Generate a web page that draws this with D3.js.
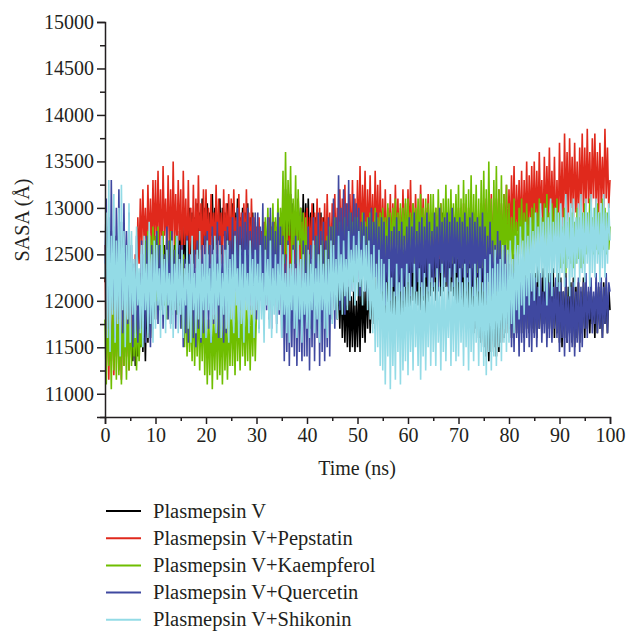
<!DOCTYPE html>
<html>
<head>
<meta charset="utf-8">
<script src="https://cdn.jsdelivr.net/npm/d3@7"></script>
<style>
  html, body { margin: 0; padding: 0; background: #ffffff; }
  svg { display: block; }
  text { font-family: "Liberation Serif", "Times New Roman", serif; fill: #231f20; }
</style>
</head>
<body>
<svg id="chart" width="626" height="631"></svg>
<script>
// SASA trajectories, one frame every 0.25 ns from 0 to 100 ns
const timeStep = 0.25;

const seriesNames = [
  "Plasmepsin V",
  "Plasmepsin V+Pepstatin",
  "Plasmepsin V+Kaempferol",
  "Plasmepsin V+Quercetin",
  "Plasmepsin V+Shikonin"
];
const seriesColors = ["#000000", "#e0291c", "#6fbe00", "#3f48a0", "#93dbe6"];

const sasaApo = [
  12200, 12800, 12100, 12700, 12300, 12750, 12000, 12600, 12150, 12700, 12250, 12800, 12100, 12650, 12200, 12750, 12050, 12600, 11900, 12500,
  11600, 12200, 11350, 12000, 11300, 11900, 11400, 12100, 11500, 12300, 11450, 12000, 11350, 12150, 11550, 12250, 11600, 12300, 11700, 12400,
  11800, 12600, 11900, 12650, 11950, 12500, 11850, 12600, 12000, 12700, 11900, 12550, 12000, 12650, 11850, 12600, 12000, 12700, 12100, 12750,
  12300, 12900, 12200, 12950, 12400, 12850, 12300, 13000, 12500, 12950, 12400, 12900, 12500, 13050, 12450, 12950, 12550, 13100, 12600, 13000,
  12600, 13050, 12500, 12950, 12700, 13150, 12550, 13000, 12600, 12900, 12650, 13100, 12500, 13000, 12700, 12950, 12550, 13050, 12600, 12900,
  12500, 13050, 12400, 12950, 12600, 13100, 12450, 12900, 12550, 13000, 12500, 12950, 12400, 13050, 12550, 12900, 12450, 12950, 12400, 12850,
  12100, 12800, 11950, 12700, 12200, 12750, 12000, 12650, 12300, 12800, 12150, 12700, 12050, 12750, 12250, 12650, 12100, 12800, 12300, 12850,
  12400, 13100, 12300, 13200, 12500, 12950, 12350, 13150, 12450, 13050, 12400, 12950, 12350, 13100, 12500, 13000, 12400, 13150, 12450, 13050,
  12500, 13100, 12400, 12950, 12600, 13050, 12450, 12900, 12300, 12850, 12400, 12950, 12350, 12900, 12250, 12800, 12200, 12750, 12150, 12700,
  12100, 12600, 11900, 12400, 11800, 12300, 11700, 12250, 11600, 12200, 11550, 12100, 11500, 12150, 11450, 12050, 11500, 12100, 11450, 12000,
  11500, 12200, 11450, 12300, 11600, 12100, 11550, 12250, 11700, 12300, 11650, 12200, 11750, 12350, 11700, 12250, 11800, 12400, 11750, 12300,
  11750, 12500, 11800, 12600, 11700, 12450, 11850, 12550, 11750, 12500, 11800, 12450, 11850, 12600, 11750, 12500, 11800, 12550, 11900, 12600,
  11900, 12650, 11800, 12700, 12000, 12600, 11850, 12550, 11950, 12700, 11900, 12650, 12000, 12600, 11850, 12700, 11950, 12650, 12050, 12750,
  12100, 12850, 12000, 12900, 12200, 12750, 12050, 12950, 12100, 12800, 12150, 12900, 12000, 12850, 12100, 12800, 12050, 12750, 11950, 12700,
  11800, 12600, 11750, 12700, 11900, 12500, 11700, 12650, 11800, 12550, 11750, 12600, 11650, 12500, 11700, 12550, 11600, 12450, 11550, 12400,
  11500, 12300, 11400, 12200, 11350, 12100, 11450, 12250, 11500, 12300, 11400, 12200, 11450, 12250, 11550, 12300, 11600, 12350, 11650, 12400,
  11700, 12400, 11600, 12500, 11750, 12350, 11650, 12450, 11700, 12300, 11650, 12400, 11600, 12350, 11700, 12450, 11650, 12300, 11700, 12400,
  11650, 12300, 11600, 12400, 11700, 12250, 11650, 12350, 11750, 12200, 11600, 12300, 11700, 12250, 11650, 12350, 11600, 12200, 11650, 12300,
  11550, 12250, 11500, 12100, 11600, 12300, 11550, 12150, 11650, 12200, 11550, 12250, 11500, 12150, 11600, 12200, 11550, 12100, 11650, 12250,
  11600, 12200, 11700, 12100, 11650, 12150, 11750, 12050, 11600, 12200, 11650, 12150, 11700, 12100, 11600, 12200, 11750, 12100, 11650, 12150,
  11900
];

const sasaPepstatin = [
  12600, 11300, 12100, 11150, 11900, 11350, 12000, 11200, 11800, 11400, 12050, 11250, 11850, 11150, 11950, 11300, 12000, 11400, 11850, 11250,
  11900, 11600, 12300, 11700, 12500, 11900, 12900, 12400, 13100, 12500, 13200, 12600, 13000, 12450, 13250, 12550, 13100, 12500, 13300, 12600,
  13300, 12500, 13400, 12600, 13200, 12400, 13450, 12700, 13100, 12500, 13350, 12550, 13200, 12450, 13500, 12600, 13150, 12500, 13300, 12650,
  13200, 12300, 13400, 12600, 13100, 12400, 13300, 12500, 13000, 12400, 13250, 12350, 13100, 12500, 13350, 12450, 13050, 12400, 13200, 12500,
  13200, 12500, 13000, 12400, 13150, 12600, 12950, 12450, 13250, 12500, 13100, 12550, 12950, 12400, 13200, 12500, 13050, 12600, 13150, 12450,
  13100, 12450, 13200, 12600, 12900, 12400, 13150, 12550, 12950, 12500, 13050, 12450, 13200, 12550, 12950, 12400, 13100, 12500, 12900, 12450,
  12800, 12200, 12900, 12100, 12750, 12300, 12850, 12150, 12700, 12250, 12900, 12200, 12800, 12100, 12850, 12300, 12750, 12200, 12900, 12150,
  12850, 12200, 12750, 12100, 12900, 12300, 12800, 12150, 12950, 12250, 12850, 12200, 12900, 12300, 12750, 12150, 12850, 12250, 12950, 12300,
  13000, 12300, 12900, 12450, 13050, 12350, 12950, 12500, 13100, 12400, 13000, 12350, 12900, 12450, 13050, 12400, 13150, 12500, 12950, 12400,
  13050, 12450, 13150, 12500, 13000, 12400, 13200, 12550, 13100, 12500, 13250, 12450, 13050, 12550, 13150, 12500, 13300, 12550, 13100, 12500,
  13300, 12600, 13450, 12550, 13250, 12700, 13400, 12500, 13200, 12650, 13350, 12600, 13150, 12550, 13400, 12650, 13250, 12600, 13300, 12550,
  13100, 12550, 13200, 12500, 13000, 12600, 13150, 12500, 13050, 12550, 13250, 12600, 13100, 12500, 13000, 12550, 13200, 12600, 13050, 12500,
  13200, 12600, 13300, 12550, 13050, 12650, 13150, 12600, 12950, 12550, 13250, 12600, 13100, 12550, 13000, 12650, 13150, 12600, 12950, 12550,
  12950, 12500, 13000, 12550, 12900, 12450, 13050, 12500, 12900, 12550, 13000, 12500, 12950, 12450, 13050, 12550, 12900, 12500, 13000, 12450,
  13000, 12500, 12900, 12550, 13050, 12450, 12950, 12600, 13000, 12500, 13100, 12550, 12950, 12500, 13000, 12450, 12900, 12550, 13050, 12500,
  13050, 12550, 13100, 12500, 12950, 12600, 13150, 12550, 13000, 12600, 13100, 12550, 13200, 12600, 13050, 12500, 13150, 12650, 13250, 12600,
  13200, 12650, 13350, 12700, 13450, 12600, 13250, 12750, 13300, 12700, 13400, 12650, 13300, 12750, 13500, 12700, 13350, 12800, 13450, 12750,
  13500, 12800, 13400, 12750, 13600, 12900, 13300, 12700, 13550, 12800, 13450, 12850, 13650, 12750, 13400, 12800, 13550, 12650, 13300, 12700,
  13700, 12900, 13500, 12750, 13800, 12950, 13600, 12850, 13750, 13000, 13550, 12900, 13700, 12950, 13500, 12850, 13650, 13000, 13800, 12950,
  13650, 12950, 13850, 13050, 13600, 12900, 13750, 13100, 13800, 13000, 13600, 12950, 13700, 13050, 13550, 13000, 13850, 13100, 13650, 13000,
  13300
];

const sasaKaempferol = [
  11800, 11100, 12000, 11300, 11900, 11050, 12100, 11250, 11950, 11150, 12050, 11200, 11850, 11100, 12000, 11300, 11900, 11150, 12050, 11250,
  11850, 11300, 11900, 11400, 11800, 11250, 11950, 11350, 11700, 11500, 12200, 11900, 12650, 12300, 12750, 12400, 12700, 12250, 12800, 12350,
  12700, 12000, 12800, 11900, 12600, 12100, 12750, 11950, 12500, 11800, 12650, 12000, 12750, 11900, 12550, 12050, 12700, 11850, 12500, 11950,
  12400, 11700, 12500, 11500, 12200, 11400, 12000, 11450, 11900, 11350, 12100, 11300, 11950, 11400, 12050, 11250, 11900, 11350, 12000, 11200,
  11950, 11100, 11800, 11200, 12000, 11050, 11850, 11250, 11900, 11150, 12000, 11200, 11850, 11100, 11950, 11250, 11800, 11150, 11900, 11300,
  12000, 11300, 11900, 11200, 12100, 11350, 11950, 11250, 12050, 11400, 11900, 11300, 12000, 11350, 12100, 11250, 11950, 11400, 12050, 11350,
  11900, 12300, 12000, 12500, 12200, 12700, 12300, 12900, 12400, 13000, 12350, 12850, 12400, 13050, 12300, 12900, 12450, 13100, 12400, 13000,
  12600, 13400, 12400, 13600, 12500, 13300, 12700, 13450, 12350, 13100, 12550, 13350, 12400, 13200, 12600, 13000, 12350, 12950, 12300, 12900,
  12300, 11800, 12500, 11700, 12400, 11900, 12600, 11850, 12700, 12100, 12500, 11800, 12650, 12000, 12550, 11900, 12700, 12100, 12800, 12200,
  12800, 12150, 12900, 12100, 12700, 12250, 12850, 12200, 12750, 12300, 12900, 12200, 12800, 12250, 12950, 12300, 12850, 12200, 12900, 12300,
  12900, 12350, 12800, 12300, 12950, 12400, 12850, 12350, 12900, 12400, 12950, 12300, 12850, 12400, 13000, 12350, 12900, 12400, 12950, 12450,
  13000, 12450, 12900, 12400, 13050, 12500, 12950, 12450, 13000, 12500, 13100, 12450, 12950, 12500, 13050, 12400, 13000, 12500, 13100, 12450,
  13100, 12450, 12950, 12500, 13050, 12400, 13000, 12550, 13100, 12450, 13150, 12500, 13000, 12450, 13100, 12550, 13050, 12400, 13150, 12500,
  13150, 12500, 13000, 12450, 13200, 12550, 13050, 12400, 13100, 12500, 13250, 12450, 13100, 12550, 13200, 12400, 13050, 12500, 13150, 12450,
  13250, 12400, 13100, 12350, 13300, 12450, 13150, 12300, 13200, 12400, 13350, 12350, 13150, 12450, 13250, 12300, 13100, 12400, 13300, 12350,
  13400, 12300, 13200, 12250, 13500, 12400, 13100, 12200, 13300, 12350, 13450, 12250, 13200, 12300, 13350, 12200, 13150, 12350, 13250, 12300,
  13050, 12400, 12900, 12300, 13100, 12450, 12850, 12350, 13000, 12500, 13100, 12400, 12950, 12350, 13050, 12450, 12900, 12400, 13000, 12500,
  13050, 12550, 12950, 12500, 13100, 12600, 12900, 12550, 13050, 12500, 13150, 12550, 12950, 12600, 13050, 12500, 13000, 12550, 13100, 12500,
  12950, 12350, 12800, 12400, 13000, 12300, 12850, 12450, 12900, 12400, 12950, 12350, 12850, 12400, 13000, 12450, 12900, 12350, 12950, 12400,
  13050, 12500, 12950, 12550, 13100, 12600, 12900, 12500, 13000, 12550, 13050, 12500, 12950, 12600, 13100, 12550, 13000, 12500, 12950, 12550,
  12800
];

const sasaQuercetin = [
  12400, 13100, 11700, 12900, 11650, 13300, 11900, 12800, 11600, 13000, 11800, 13200, 11700, 12850, 11650, 13050, 11900, 12750, 11750, 12950,
  11800, 12600, 11500, 12400, 11650, 12700, 11550, 12300, 11700, 12650, 11600, 12500, 11550, 12700, 11650, 12400, 11500, 12600, 11700, 12550,
  12100, 12750, 11750, 12600, 11900, 12700, 11700, 12500, 12000, 12800, 11800, 12650, 11750, 12750, 11900, 12550, 11700, 12700, 11850, 12600,
  11700, 12600, 11500, 12450, 11650, 12700, 11550, 12500, 11800, 12600, 11600, 12550, 11500, 12650, 11700, 12450, 11550, 12600, 11650, 12700,
  11600, 12750, 11700, 12600, 11550, 12800, 11750, 12650, 11650, 12850, 11600, 12700, 11700, 12600, 11550, 12750, 11650, 12800, 11700, 12650,
  12000, 12900, 11800, 12750, 12100, 13000, 11750, 12800, 11900, 12950, 11850, 12850, 12000, 13000, 11750, 12750, 11900, 12900, 11800, 12950,
  11800, 12950, 11700, 12800, 12000, 13050, 11750, 12700, 11900, 12900, 11800, 13000, 11700, 12850, 11950, 12750, 11750, 12950, 11850, 12800,
  11600, 12700, 11350, 12500, 11450, 12650, 11300, 12400, 11500, 12600, 11400, 12700, 11300, 12550, 11450, 12450, 11350, 12650, 11400, 12600,
  11400, 12800, 11250, 12600, 11500, 12900, 11350, 12700, 11600, 12950, 11300, 12750, 11450, 12850, 11350, 12650, 11500, 12900, 11400, 12800,
  11800, 13100, 11700, 12900, 12000, 13350, 11900, 13000, 12100, 13200, 11850, 13050, 11950, 13300, 12000, 12950, 12100, 13150, 12000, 13050,
  12200, 13000, 12050, 12850, 12300, 12950, 12100, 12800, 12000, 12900, 12150, 13000, 12050, 12850, 12250, 12950, 12100, 12800, 12000, 12900,
  12100, 12850, 11950, 12700, 12200, 12900, 12000, 12750, 12150, 12800, 12050, 12900, 11950, 12750, 12100, 12850, 12000, 12700, 12150, 12800,
  12200, 12900, 12050, 12800, 12300, 12950, 12100, 12750, 12200, 12850, 12150, 12900, 12050, 12800, 12250, 12950, 12100, 12850, 12200, 12750,
  12150, 12950, 12250, 12800, 12100, 13000, 12300, 12850, 12150, 12900, 12200, 12950, 12100, 12850, 12250, 13000, 12150, 12900, 12300, 12850,
  12200, 12900, 12050, 12850, 12250, 12950, 12100, 12800, 12200, 12900, 12150, 12950, 12050, 12850, 12250, 12900, 12100, 12800, 12200, 12950,
  12100, 12800, 12000, 12700, 12200, 12850, 12050, 12650, 11950, 12600, 12100, 12750, 12000, 12650, 11900, 12550, 11800, 12600, 11750, 12500,
  11700, 12400, 11500, 12300, 11450, 12500, 11600, 12200, 11400, 12350, 11550, 12450, 11450, 12250, 11600, 12400, 11500, 12300, 11450, 12350,
  11600, 12250, 11500, 12150, 11700, 12300, 11550, 12100, 11650, 12250, 11500, 12200, 11600, 12300, 11550, 12150, 11700, 12250, 11600, 12200,
  11450, 12200, 11600, 12100, 11400, 12250, 11550, 12050, 11450, 12150, 11500, 12200, 11400, 12100, 11550, 12250, 11450, 12150, 11500, 12200,
  11700, 12300, 11600, 12150, 11800, 12250, 11650, 12100, 11750, 12300, 11650, 12200, 11700, 12250, 11600, 12150, 11750, 12300, 11650, 12200,
  12100
];

const sasaShikonin = [
  12250, 12950, 11600, 13300, 11450, 12700, 11850, 13150, 11550, 12650, 11750, 13000, 11400, 13250, 11900, 12750, 11500, 12600, 11800, 13050,
  11550, 12750, 11850, 12450, 11600, 12800, 11950, 12350, 11650, 12600, 11500, 12700, 11900, 12400, 11600, 12850, 11750, 12500, 11550, 12650,
  11700, 12600, 11950, 12350, 11600, 12700, 11850, 12450, 11650, 12550, 11950, 12300, 11700, 12650, 11600, 12400, 11900, 12700, 11650, 12450,
  11850, 12550, 11600, 12350, 11950, 12650, 11700, 12400, 11550, 12700, 11900, 12300, 11650, 12550, 11800, 12750, 11600, 12400, 11900, 12500,
  11600, 12650, 11900, 12350, 11550, 12500, 11800, 12700, 11650, 12400, 11950, 12600, 11600, 12300, 11850, 12550, 11700, 12650, 11550, 12450,
  11800, 12500, 11650, 12700, 11950, 12350, 11600, 12600, 11750, 12400, 11550, 12550, 11900, 12300, 11650, 12650, 11850, 12450, 11600, 12550,
  11900, 12400, 11650, 12600, 11800, 12300, 11550, 12550, 11950, 12450, 11700, 12650, 11600, 12350, 11850, 12500, 11650, 12400, 11900, 12600,
  11600, 12500, 11850, 12300, 11650, 12600, 11550, 12400, 11900, 12550, 11700, 12350, 11600, 12650, 11800, 12450, 11550, 12500, 11850, 12300,
  11700, 12550, 11600, 12400, 11900, 12650, 11650, 12350, 11800, 12500, 11550, 12600, 11900, 12400, 11700, 12550, 11600, 12450, 11850, 12650,
  11750, 12600, 11900, 12450, 11800, 12700, 12000, 12500, 11850, 12650, 12050, 12450, 11900, 12750, 12000, 12550, 12100, 12700, 11950, 12600,
  12050, 12750, 12150, 12550, 11950, 12700, 12100, 12600, 11900, 12650, 11800, 12500, 11650, 12600, 11450, 12400, 11500, 12550, 11300, 12450,
  11250, 12400, 11100, 12200, 11400, 12450, 11050, 12250, 11300, 12100, 11150, 12400, 11450, 12200, 11100, 12350, 11250, 12150, 11350, 12400,
  11200, 12300, 11450, 12150, 11250, 12400, 11500, 12100, 11300, 12350, 11150, 12200, 11400, 12300, 11250, 12150, 11500, 12400, 11300, 12250,
  11450, 12200, 11300, 12350, 11550, 12150, 11250, 12400, 11450, 12250, 11350, 12150, 11600, 12350, 11300, 12200, 11450, 12400, 11350, 12250,
  11400, 12350, 11550, 12200, 11300, 12400, 11500, 12250, 11250, 12350, 11450, 12150, 11350, 12400, 11550, 12250, 11300, 12350, 11450, 12200,
  11300, 12450, 11200, 12300, 11450, 12500, 11250, 12350, 11400, 12550, 11300, 12400, 11500, 12450, 11350, 12600, 11550, 12400, 11450, 12550,
  11550, 12650, 11750, 12450, 11650, 12700, 11900, 12600, 11800, 12800, 11950, 12650, 11850, 12850, 12050, 12700, 11950, 12900, 12100, 12750,
  12000, 12950, 12200, 12800, 12050, 13050, 12250, 12850, 12100, 13000, 11950, 12900, 12200, 13100, 12050, 12850, 12300, 13000, 12150, 12950,
  12100, 13050, 12300, 12900, 12150, 13150, 12350, 12950, 12050, 13050, 12250, 13100, 12150, 12900, 12400, 13050, 12200, 13150, 12300, 12950,
  12200, 13100, 12400, 12950, 12150, 13150, 12300, 13000, 12250, 13100, 12400, 12950, 12200, 13050, 12350, 13150, 12250, 12950, 12400, 13050,
  12650
];

const seriesValues = [sasaApo, sasaPepstatin, sasaKaempferol, sasaQuercetin, sasaShikonin];

const xTickValues = [0, 10, 20, 30, 40, 50, 60, 70, 80, 90, 100];
const xMinorTickValues = [5, 15, 25, 35, 45, 55, 65, 75, 85, 95];
const yTickValues = [11000, 11500, 12000, 12500, 13000, 13500, 14000, 14500, 15000];
const yMinorTickValues = [10750, 11250, 11750, 12250, 12750, 13250, 13750, 14250, 14750];

const svg = d3.select("#chart");

const x = d3.scaleLinear().domain([0, 100]).range([105, 610]);
const y = d3.scaleLinear().domain([10750, 15000]).range([417, 22]);

// trajectories, apo first so the ligand complexes sit on top
const line = d3.line()
  .x((d, i) => x(i * timeStep))
  .y(d => y(d));

const traces = svg.append("g").attr("class", "traces");
seriesValues.forEach((vals, k) => {
  traces.append("path")
    .datum(vals)
    .attr("d", line)
    .attr("fill", "none")
    .attr("stroke", seriesColors[k])
    .attr("stroke-width", 1.6)
    .attr("stroke-linejoin", "bevel");
});

// axes
function styleAxis(g) {
  g.selectAll("path.domain").attr("stroke", "#231f20").attr("stroke-width", 1.5);
  g.selectAll(".tick line").attr("stroke", "#231f20").attr("stroke-width", 1.5);
  g.selectAll(".tick text")
    .attr("font-family", "'Liberation Serif', 'Times New Roman', serif")
    .attr("font-size", 20)
    .attr("fill", "#231f20");
}

const xAxis = svg.append("g")
  .attr("transform", "translate(0,417)")
  .call(d3.axisBottom(x).tickValues(xTickValues).tickSize(7).tickPadding(4).tickFormat(d3.format("d")));
styleAxis(xAxis);

svg.append("g")
  .attr("transform", "translate(0,417)")
  .call(d3.axisBottom(x).tickValues(xMinorTickValues).tickSize(4).tickFormat(""))
  .call(g => { g.select("path.domain").remove(); styleAxis(g); });

const yAxis = svg.append("g")
  .attr("transform", "translate(105,0)")
  .call(d3.axisLeft(y).tickValues(yTickValues).tickSize(8).tickPadding(3).tickFormat(d3.format("d")));
styleAxis(yAxis);

svg.append("g")
  .attr("transform", "translate(105,0)")
  .call(d3.axisLeft(y).tickValues(yMinorTickValues).tickSize(5).tickFormat(""))
  .call(g => { g.select("path.domain").remove(); styleAxis(g); });

// axis titles
svg.append("text")
  .attr("x", 357)
  .attr("y", 475)
  .attr("text-anchor", "middle")
  .attr("font-size", 20)
  .text("Time (ns)");

svg.append("text")
  .attr("transform", "translate(29,220) rotate(-90)")
  .attr("text-anchor", "middle")
  .attr("font-size", 20)
  .text("SASA (Å)");

// legend
const legend = svg.append("g").attr("class", "legend");
seriesNames.forEach((name, k) => {
  const cy = 511 + k * 27.2;
  legend.append("line")
    .attr("x1", 106).attr("x2", 141)
    .attr("y1", cy).attr("y2", cy)
    .attr("stroke", seriesColors[k])
    .attr("stroke-width", 2);
  legend.append("text")
    .attr("x", 153)
    .attr("y", cy + 6.5)
    .attr("font-size", 20.5)
    .text(name);
});
</script>
</body>
</html>
